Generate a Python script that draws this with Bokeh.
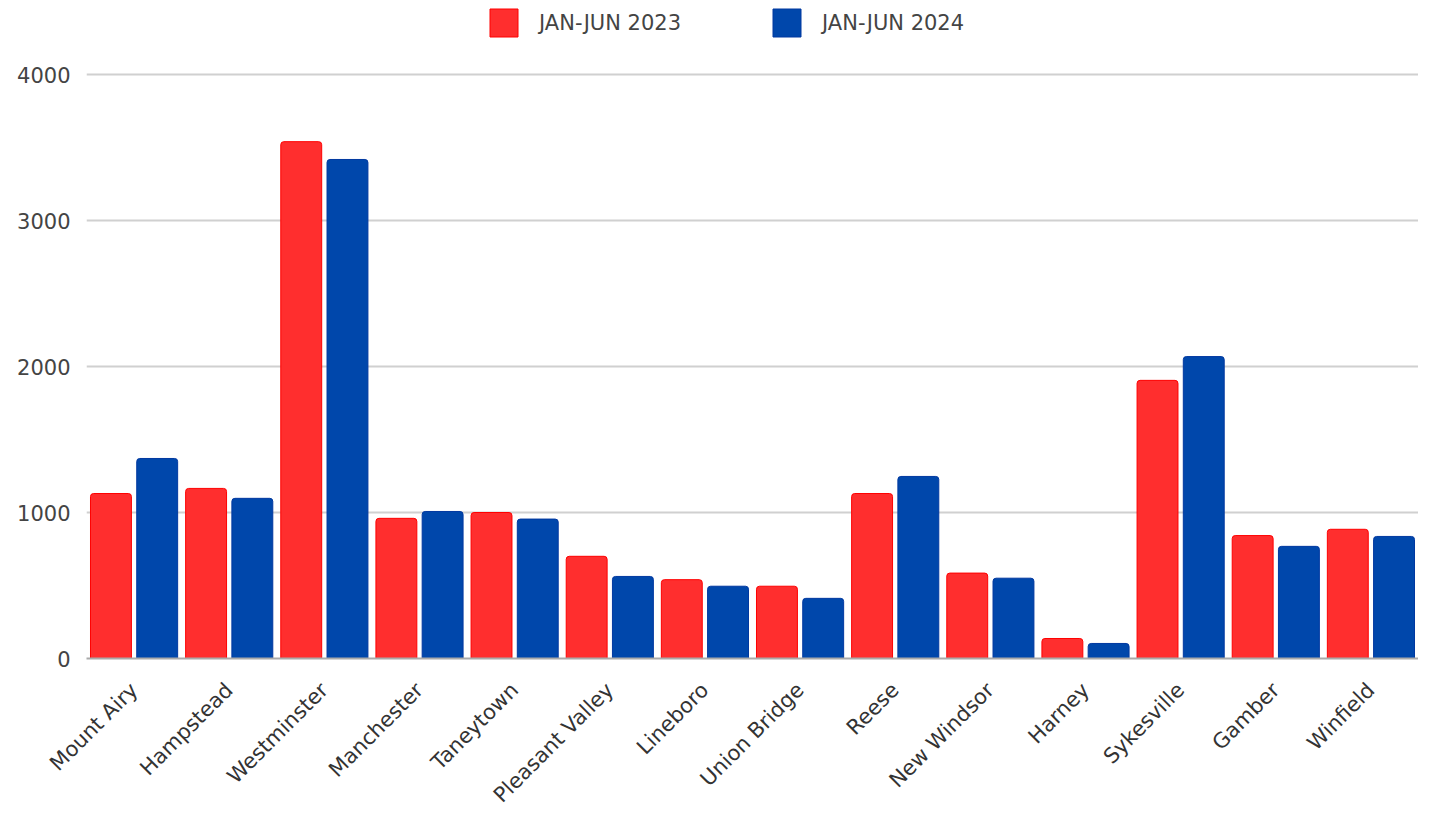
from math import pi
from bokeh.plotting import figure
from bokeh.models import ColumnDataSource, FactorRange, Legend, LegendItem, Range1d
from bokeh.transform import dodge
from bokeh.embed import file_html
from bokeh.resources import INLINE

towns = ["Mount Airy", "Hampstead", "Westminster", "Manchester", "Taneytown",
         "Pleasant Valley", "Lineboro", "Union Bridge", "Reese", "New Windsor",
         "Harney", "Sykesville", "Gamber", "Winfield"]
jan_jun_2023 = [1130, 1165, 3540, 960, 1000, 700, 540, 495, 1130, 585, 137, 1905, 842, 885]
jan_jun_2024 = [1370, 1097, 3418, 1007, 955, 562, 495, 412, 1247, 550, 103, 2068, 768, 836]
series_labels = ["JAN-JUN 2023", "JAN-JUN 2024"]
y_ticks = [0, 1000, 2000, 3000, 4000]

FONT = "DejaVu Sans"
RED = "#ff2e2e"
BLUE = "#0047ab"

src = ColumnDataSource(dict(town=towns, a=jan_jun_2023, b=jan_jun_2024))

# frame spans 653 px; 4000 sits 69 px below the frame top to leave room for the legend
p = figure(x_range=FactorRange(*towns, range_padding=0.0), y_range=Range1d(0, 4000 * 653 / 584),
           width=1418, height=818, output_backend="svg", toolbar_location=None,
           min_border_left=86, min_border_right=0, min_border_bottom=150, min_border_top=5)
p.outline_line_color = None
p.x_range.factor_padding = 0

r1 = p.vbar(x=dodge("town", -0.243, range=p.x_range), top="a", width=0.43, source=src,
            fill_color=RED, line_color="#ff0000", line_width=1, border_radius=[3, 3, 0, 0])
r2 = p.vbar(x=dodge("town", 0.243, range=p.x_range), top="b", width=0.43, source=src,
            fill_color=BLUE, line_color="#0038a0", line_width=1, border_radius=[3, 3, 0, 0])

p.yaxis.ticker = y_ticks
p.yaxis.axis_line_color = None
p.yaxis.major_tick_line_color = None
p.yaxis.minor_tick_line_color = None
p.yaxis.major_label_text_font = FONT
p.yaxis.major_label_text_font_size = "21px"
p.yaxis.major_label_text_color = "#444444"
p.yaxis.major_label_standoff = 10

p.xaxis.axis_line_color = "#aaaaaa"
p.xaxis.axis_line_width = 2
p.xaxis.major_tick_line_color = None
p.xaxis.minor_tick_line_color = None
p.xaxis.major_label_orientation = pi / 4
p.xaxis.major_label_text_font = FONT
p.xaxis.major_label_text_font_size = "21px"
p.xaxis.major_label_text_color = "#333333"
p.xaxis.major_label_standoff = 22

p.xgrid.grid_line_color = None
p.ygrid.grid_line_color = "#d0d0d0"
p.ygrid.grid_line_width = 2

legend = Legend(items=[LegendItem(label=series_labels[0], renderers=[r1]),
                       LegendItem(label=series_labels[1], renderers=[r2])],
                orientation="horizontal", location=(400, 618),
                glyph_width=35, glyph_height=35, label_standoff=18, spacing=88,
                label_text_font=FONT, label_text_font_size="21px", label_text_color="#444444",
                border_line_color=None, background_fill_alpha=0, padding=0, margin=0)
p.add_layout(legend, "center")

open("out.html", "w").write(file_html(p, INLINE))
